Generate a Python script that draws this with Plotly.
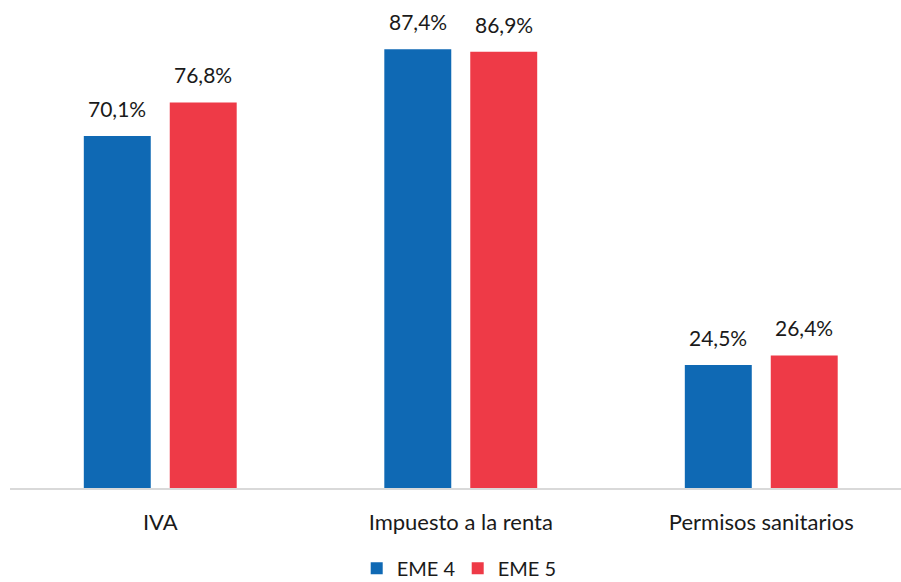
import plotly.graph_objects as go

categories = ["IVA", "Impuesto a la renta", "Permisos sanitarios"]
eme4 = [70.1, 87.4, 24.5]
eme5 = [76.8, 86.9, 26.4]
series_names = ["EME 4", "EME 5"]
colors = ["#0F69B4", "#EE3A47"]

def fmt(v):
    return f"{v:.1f}".replace(".", ",") + "%"

FONT = "Lato, Open Sans, sans-serif"

fig = go.Figure()
for name, vals, c in zip(series_names, [eme4, eme5], colors):
    fig.add_trace(go.Bar(
        x=categories, y=vals, name=name, marker=dict(color=c, line=dict(width=0)),
    ))

annotations = []
for vals, shift in zip([eme4, eme5], [-43, 43]):
    for cat, v in zip(categories, vals):
        annotations.append(dict(
            x=cat, y=v, xref="x", yref="y", text=fmt(v), showarrow=False,
            xanchor="center", yanchor="bottom", xshift=shift, yshift=13,
            font=dict(family=FONT, size=21, color="#1a1a1a"),
        ))

fig.update_layout(
    width=901, height=582,
    margin=dict(l=10, r=0, t=10, b=94, autoexpand=False),
    paper_bgcolor="white", plot_bgcolor="white",
    barmode="group", bargap=0.428, bargroupgap=0.221,
    font=dict(family=FONT, size=20, color="#1a1a1a"),
    showlegend=True,
    legend=dict(orientation="h", x=0.508, xanchor="center", xref="container",
                y=-0.168, yanchor="middle",
                font=dict(size=20), traceorder="normal", entrywidth=56),
    annotations=annotations,
)
fig.update_xaxes(showline=True, linecolor="#D9D9D9", linewidth=2, ticks="outside",
                 ticklen=14, tickcolor="rgba(0,0,0,0)", showgrid=False, automargin=False,
                 range=[-0.5, 2.465], tickfont=dict(size=22))
fig.update_yaxes(range=[0, 95.2], visible=False, showgrid=False)

fig.write_html("out.html", config={"displayModeBar": False},
               post_script="document.body.style.margin='0';")
